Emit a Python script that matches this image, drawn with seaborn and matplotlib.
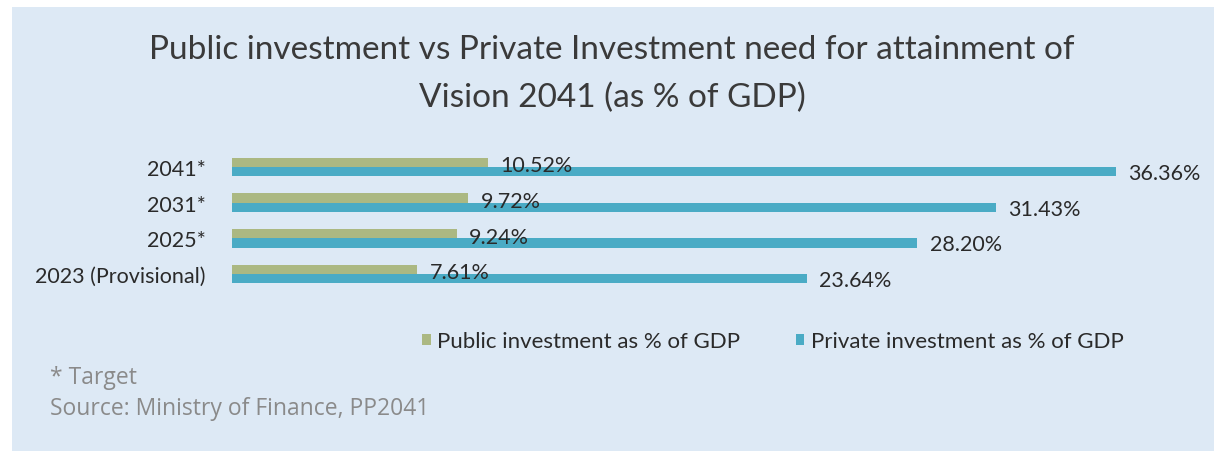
import matplotlib
matplotlib.use("Agg")
import matplotlib.pyplot as plt
from matplotlib.patches import Patch, Rectangle
import seaborn as sns
import pandas as pd

# Investment needs by year (as % of GDP)
years = ["2041*", "2031*", "2025*", "2023 (Provisional)"]
public_pct = [10.52, 9.72, 9.24, 7.61]
private_pct = [36.36, 31.43, 28.20, 23.64]
series_names = ["Public investment as % of GDP", "Private investment as % of GDP"]

title_lines = ["Public investment vs Private Investment need for attainment of",
               "Vision 2041 (as % of GDP)"]
footnote = "* Target"
source = "Source: Ministry of Finance, PP2041"

df = pd.DataFrame({
    "year": years * 2,
    "value": public_pct + private_pct,
    "series": [series_names[0]] * len(years) + [series_names[1]] * len(years),
})

sns.set_theme(style="white")
plt.rcParams["font.family"] = ["Lato", "DejaVu Sans"]

colors = {series_names[0]: "#abb882", series_names[1]: "#4aabc5"}
panel_color = "#dde9f5"
text_dark = "#2a2a2a"

W, H = 1224, 452
fig = plt.figure(figsize=(W / 100, H / 100), dpi=100)
fig.patch.set_facecolor("white")
fig.patches.append(Rectangle((12 / W, 0), 1 - 22 / W, 1 - 8 / H,
                             transform=fig.transFigure, facecolor=panel_color,
                             edgecolor="none", zorder=-1))

# Axes spans from value 0 at x=232 px; rows 36 px apart
ax = fig.add_axes([232 / W, 1 - 293 / H, 948 / W, 143 / H])
ax.set_facecolor("none")

sns.barplot(data=df, x="value", y="year", hue="series", order=years,
            hue_order=series_names, palette=colors, orient="h",
            width=0.52, gap=0, saturation=1, edgecolor="none",
            legend=False, ax=ax)

ax.set_xlim(0, 39)
ax.set_ylim(3.5, -0.5)
ax.set_xlabel("")
ax.set_ylabel("")
ax.set_xticks([])
ax.tick_params(axis="y", length=0, pad=19, labelsize=15.5, labelcolor=text_dark)
for s in ax.spines.values():
    s.set_visible(False)

# Value labels at the ends of the bars
for container, dy in zip(ax.containers, (-2, -1)):
    labels = ax.bar_label(container, fmt="%.2f%%", padding=9, fontsize=15.5,
                          color=text_dark)
    for t in labels:
        t.xyann = (t.xyann[0], dy)

fig.text(0.5, 1 - 50 / H, title_lines[0], ha="center", va="center",
         fontsize=24, color="#3a3a3a")
fig.text(0.5, 1 - 98 / H, title_lines[1], ha="center", va="center",
         fontsize=24, color="#3a3a3a")

handles = [Patch(facecolor=colors[n], edgecolor="none", label=n) for n in series_names]
fig.legend(handles=handles, loc="center", bbox_to_anchor=(773 / W, 1 - 342 / H),
           ncol=2, frameon=False, fontsize=16, handlelength=0.38, handleheight=0.38,
           handletextpad=0.3, columnspacing=2.5, labelcolor=text_dark)

fig.text(50 / W, 1 - 378 / H, footnote, ha="left", va="center",
         fontsize=16.5, color="#8a8a8a", family=["Open Sans", "DejaVu Sans"])
fig.text(50 / W, 1 - 409 / H, source, ha="left", va="center",
         fontsize=16.5, color="#8a8a8a", family=["Open Sans", "DejaVu Sans"])

fig.savefig("out.png", dpi=100, facecolor=fig.get_facecolor())
